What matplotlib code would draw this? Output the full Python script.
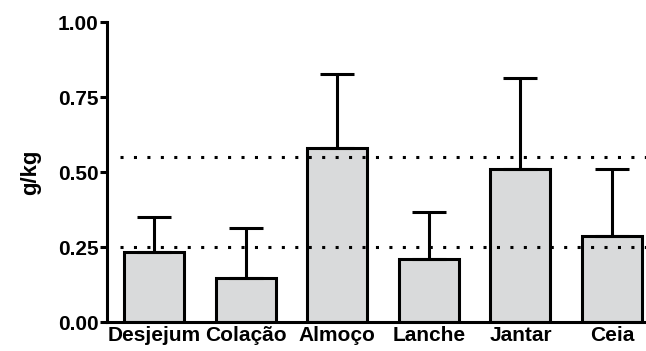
import matplotlib.pyplot as plt
import numpy as np

plt.rcParams['font.family'] = ['Liberation Sans', 'DejaVu Sans']
plt.rcParams['font.weight'] = 'bold'

# refeições e médias (g/kg) com desvio padrão superior
refeicoes = ['Desjejum', 'Colação', 'Almoço', 'Lanche', 'Jantar', 'Ceia']
media = [0.234, 0.146, 0.581, 0.209, 0.509, 0.288]
dp = [0.115, 0.166, 0.245, 0.157, 0.305, 0.221]
limites = [0.25, 0.55]

fig = plt.figure(figsize=(6.46, 3.51), dpi=100)
ax = fig.add_axes([0.1656, 0.0826, 0.8344, 0.8547])

x = np.arange(len(refeicoes))
ax.bar(x, media, width=0.655, color='#d9dadb', edgecolor='black', linewidth=2.2, zorder=2)
ax.errorbar(x, media, yerr=[np.zeros(len(dp)), dp], fmt='none', ecolor='black',
            elinewidth=2.2, capsize=12, capthick=2.2, zorder=3)

for y in limites:
    ax.plot([-0.37, 5.4], [y, y], color='black', linewidth=2.2,
            linestyle=(0, (1, 3.4)), zorder=4, clip_on=False)

ax.set_xlim(-0.513, 5.37)
ax.set_ylim(0, 1.0)
ax.set_yticks([0, 0.25, 0.5, 0.75, 1.0])
ax.set_yticklabels(['0.00', '0.25', '0.50', '0.75', '1.00'])
ax.set_xticks(x)
ax.set_xticklabels(refeicoes)
ax.set_ylabel('g/kg', fontsize=16, fontweight='bold', labelpad=12)

ax.tick_params(axis='y', length=5, width=2.2, labelsize=15, pad=1)
ax.tick_params(axis='x', length=0, labelsize=15, pad=3)
for s in ['top', 'right']:
    ax.spines[s].set_visible(False)
for s in ['left', 'bottom']:
    ax.spines[s].set_linewidth(2.2)

fig.savefig('out.png', dpi=100)
